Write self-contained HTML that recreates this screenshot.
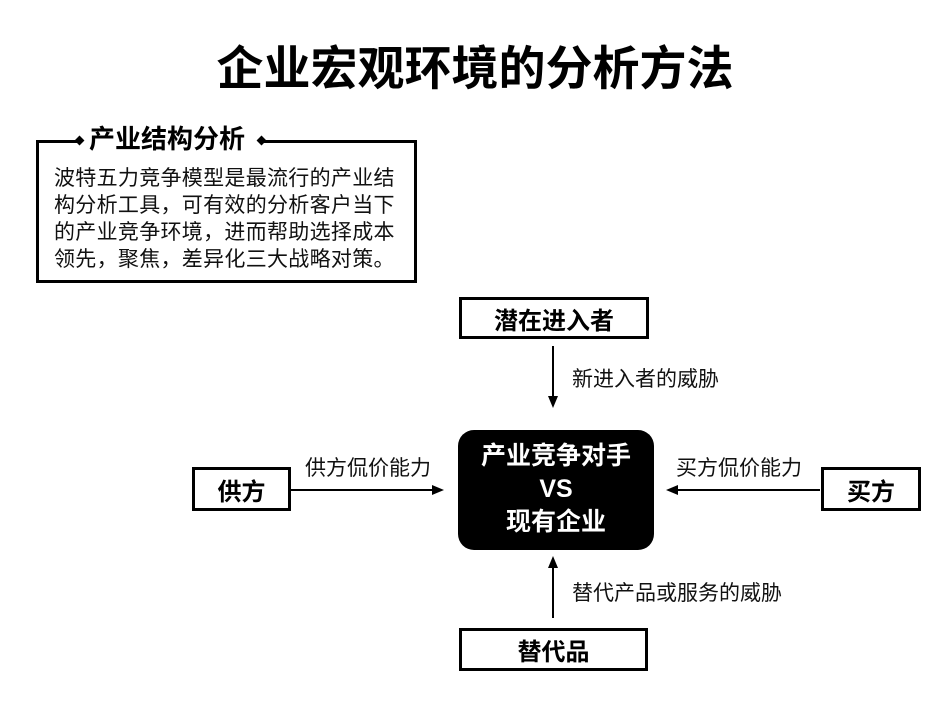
<!DOCTYPE html>
<html><head><meta charset="utf-8"><style>
body{margin:0;width:950px;height:713px;background:#fff;position:relative;font-family:"Liberation Sans","Noto Sans CJK SC",sans-serif;overflow:hidden}
.a{position:absolute}
.box{position:absolute;border:3px solid #000;box-sizing:border-box;display:flex;align-items:center;justify-content:center;font-weight:bold;font-size:24px;background:#fff}
.lbl{position:absolute;font-size:21px;color:#111;white-space:nowrap}
</style></head><body>
<div class="a" style="left:0;width:950px;top:38px;text-align:center;font-size:47px;font-weight:bold;line-height:62px">企业宏观环境的分析方法</div>

<div class="a" style="left:36px;top:140px;width:381px;height:143px;border:3px solid #000;border-top:none;box-sizing:border-box"></div>
<div class="a" style="left:36px;top:140px;width:44px;height:3px;background:#000"></div>
<div class="a" style="left:76px;top:137px;width:7px;height:7px;background:#000;transform:rotate(45deg)"></div>
<div class="a" style="left:258px;top:137px;width:7px;height:7px;background:#000;transform:rotate(45deg)"></div>
<div class="a" style="left:262px;top:140px;width:155px;height:3px;background:#000"></div>
<div class="a" style="left:89px;top:122px;font-size:26px;font-weight:bold;line-height:34px">产业结构分析</div>
<div class="a" style="left:54px;top:165px;width:350px;font-size:21px;line-height:27px;color:#111;letter-spacing:0.3px">波特五力竞争模型是最流行的产业结<br>构分析工具，可有效的分析客户当下<br>的产业竞争环境，进而帮助选择成本<br>领先，聚焦，差异化三大战略对策。</div>

<div class="box" style="left:459px;top:297px;width:190px;height:42px">潜在进入者</div>
<div class="box" style="left:192px;top:467px;width:99px;height:44px">供方</div>
<div class="box" style="left:821px;top:467px;width:100px;height:44px">买方</div>
<div class="box" style="left:459px;top:628px;width:189px;height:43px">替代品</div>
<div class="a" style="left:458px;top:430px;width:196px;height:120px;background:#000;border-radius:16px;color:#fff;font-weight:bold;font-size:25px;line-height:33px;text-align:center;padding-top:10px;box-sizing:border-box">产业竞争对手<br>VS<br>现有企业</div>

<svg class="a" style="left:0;top:0" width="950" height="713">
<g stroke="#000" stroke-width="2" fill="#000">
<line x1="553" y1="346" x2="553" y2="398"/><polygon points="548,396 558,396 553,408" stroke="none"/>
<line x1="553" y1="618" x2="553" y2="566"/><polygon points="548,568 558,568 553,556" stroke="none"/>
<line x1="291" y1="490" x2="434" y2="490"/><polygon points="432,485 432,495 444,490" stroke="none"/>
<line x1="820" y1="490" x2="676" y2="490"/><polygon points="678,485 678,495 666,490" stroke="none"/>
</g></svg>
<div class="lbl" style="left:572px;top:363px">新进入者的威胁</div>
<div class="lbl" style="left:305px;top:452px">供方侃价能力</div>
<div class="lbl" style="left:676px;top:452px">买方侃价能力</div>
<div class="lbl" style="left:572px;top:577px">替代产品或服务的威胁</div>
</body></html>
